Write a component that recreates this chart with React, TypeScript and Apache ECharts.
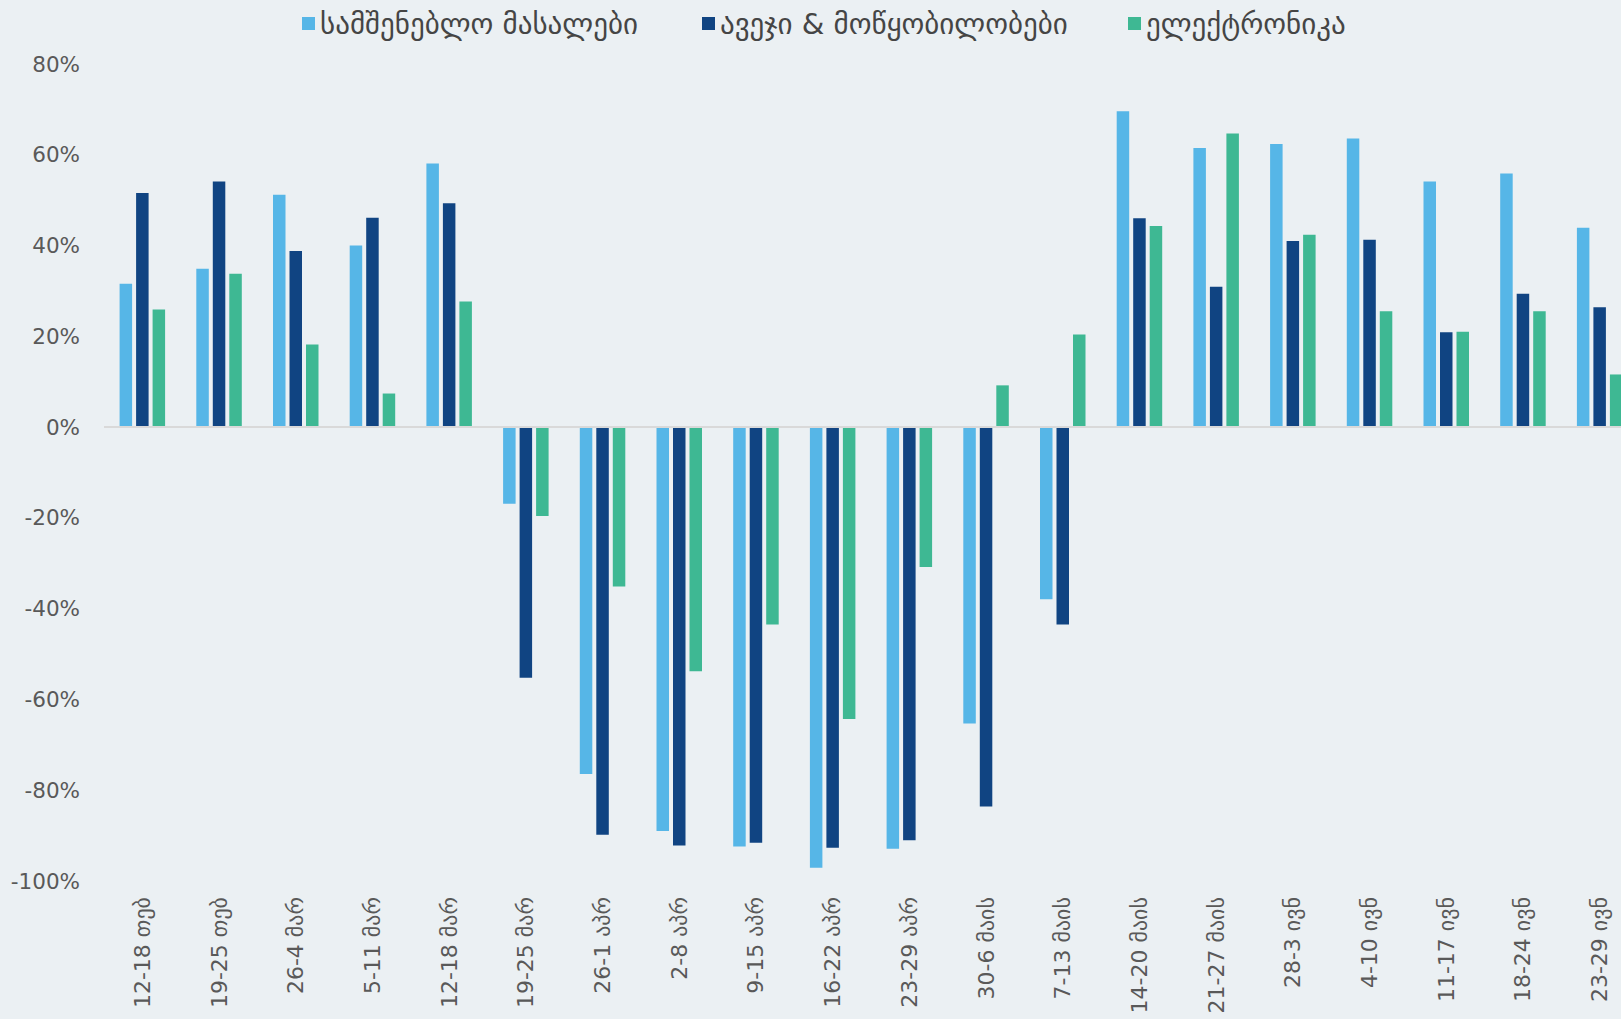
import React, { useEffect, useRef } from "react";
import * as echarts from "echarts";

const categories = [
  "12-18 თებ", "19-25 თებ", "26-4 მარ", "5-11 მარ", "12-18 მარ",
  "19-25 მარ", "26-1 აპრ", "2-8 აპრ", "9-15 აპრ", "16-22 აპრ",
  "23-29 აპრ", "30-6 მაის", "7-13 მაის", "14-20 მაის", "21-27 მაის",
  "28-3 ივნ", "4-10 ივნ", "11-17 ივნ", "18-24 ივნ", "23-29 ივნ",
];

const seriesNames = ["სამშენებლო მასალები", "ავეჯი & მოწყობილობები", "ელექტრონიკა"];

const buildingMaterials = [31.6, 34.9, 51.2, 40.0, 58.1, -16.9, -76.4, -89.0, -92.4, -97.1, -92.9, -65.3, -37.9, 69.6, 61.5, 62.4, 63.6, 54.1, 55.9, 43.9];
const furniture = [51.6, 54.1, 38.8, 46.1, 49.3, -55.2, -89.8, -92.2, -91.6, -92.7, -91.0, -83.6, -43.5, 46.0, 30.9, 41.0, 41.3, 20.9, 29.4, 26.4];
const electronics = [25.9, 33.8, 18.2, 7.4, 27.7, -19.6, -35.1, -53.8, -43.5, -64.3, -30.8, 9.2, 20.4, 44.3, 64.7, 42.4, 25.5, 21.0, 25.5, 11.6];

const colors = ["#56B6E7", "#104482", "#3EB893"];
const legendLefts = [302, 702, 1128];

export default function App() {
  const ref = useRef<HTMLDivElement>(null);
  useEffect(() => {
    if (!ref.current) return;
    const chart = echarts.init(ref.current, null, { renderer: "svg" });
    const values = [buildingMaterials, furniture, electronics];
    chart.setOption({
      animation: false,
      backgroundColor: "#EBF0F3",
      legend: seriesNames.map((n, i) => ({
        data: [n],
        left: legendLefts[i],
        top: 9,
        padding: 0,
        itemWidth: 13,
        itemHeight: 13,
        icon: "rect",
        itemGap: 8,
        textStyle: { fontFamily: "DejaVu Sans", fontSize: 29, color: "#454545" },
      })),
      grid: { left: 104, right: 0, top: 64, bottom: 138, containLabel: false },
      xAxis: {
        type: "category",
        data: categories,
        axisLine: { show: false },
        axisTick: { show: false },
        axisLabel: {
          rotate: 90,
          interval: 0,
          margin: 16,
          fontFamily: "DejaVu Sans",
          fontSize: 22,
          color: "#595959",
        },
      },
      yAxis: {
        type: "value",
        min: -100,
        max: 80,
        interval: 20,
        splitLine: { show: false },
        axisLine: { show: false },
        axisTick: { show: false },
        axisLabel: {
          formatter: "{value}%",
          margin: 24,
          fontFamily: "DejaVu Sans",
          fontSize: 21.5,
          color: "#595959",
        },
      },
      series: seriesNames.map((n, i) => ({
        name: n,
        type: "bar",
        data: values[i],
        barWidth: 12.5,
        barGap: "32%",
        itemStyle: { color: colors[i] },
        ...(i === 0
          ? {
              markLine: {
                silent: true,
                symbol: "none",
                label: { show: false },
                lineStyle: { color: "#D9D9D9", width: 2, type: "solid" },
                data: [{ yAxis: 0 }],
              },
            }
          : {}),
      })),
    });
    return () => chart.dispose();
  }, []);
  return (
    <div
      ref={ref}
      style={{ position: "fixed", left: 0, top: 0, width: 1638, height: 1019 }}
    />
  );
}
